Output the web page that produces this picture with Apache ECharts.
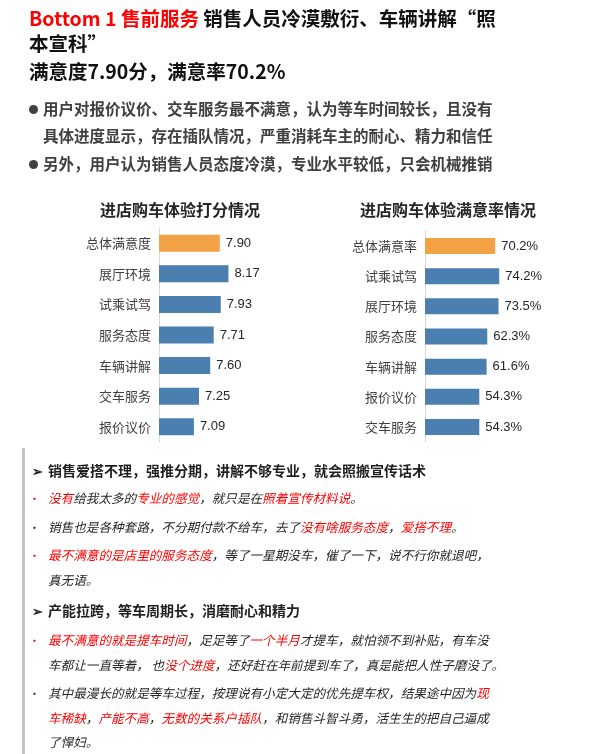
<!DOCTYPE html>
<html>
<head>
<meta charset="utf-8">
<script src="https://cdn.jsdelivr.net/npm/echarts@6/dist/echarts.min.js"></script>
<style>
	*{
		margin:0px;
		padding:0px;
	}
	body{
		background: #fff;
		font-family: "Noto Sans CJK SC", "Noto Sans", sans-serif;
	}
	#page{
		position: relative;
		width: 611px;
		height: 754px;
		overflow: hidden;
	}
	#main{
		position: absolute;
		left: 0;
		top: 0;
		width: 611px;
		height: 754px;
	}
	.ln{
		position: absolute;
		white-space: nowrap;
	}
	.head{
		left: 29px;
		font-size: 19.5px;
		font-weight: bold;
		color: #111;
		line-height: 25px;
	}
	.red{
		color: #ff0000;
	}
	.pt{
		left: 29px;
		font-size: 15.5px;
		font-weight: bold;
		color: #404040;
		line-height: 26px;
	}
	.pt b{
		display: inline-block;
		width: 9px;
		height: 9px;
		border-radius: 50%;
		background: #404040;
		margin: 0 5px 0 0;
		vertical-align: 1px;
	}
	.pt b.no{
		background: none;
	}
	.bar-left{
		position: absolute;
		left: 22px;
		top: 448px;
		width: 3px;
		height: 306px;
		background: #c4c4c4;
	}
	.sub{
		left: 32px;
		font-size: 14px;
		font-weight: bold;
		color: #1f1f1f;
		line-height: 22px;
	}
	.sub i{
		font-style: normal;
		display: inline-block;
		width: 16px;
		font-size: 13px;
	}
	.it{
		left: 48px;
		font-size: 12.6px;
		font-style: italic;
		color: #262626;
		line-height: 22px;
	}
	.dot{
		left: 29px;
		font-size: 11px;
		line-height: 22px;
	}
</style>
</head>
<body>
<div id="page">
	<div id="main"></div>

	<div class="ln head" style="top:5px;"><span class="red">Bottom 1 售前服务</span> 销售人员冷漠敷衍、车辆讲解“照<br>本宣科”</div>
	<div class="ln head" style="top:58px;">满意度7.90分，满意率70.2%</div>

	<div class="ln pt" style="top:95px;"><b></b>用户对报价议价、交车服务最不满意，认为等车时间较长，且没有</div>
	<div class="ln pt" style="top:122px;"><b class="no"></b>具体进度显示，存在插队情况，严重消耗车主的耐心、精力和信任</div>
	<div class="ln pt" style="top:150px;"><b></b>另外，用户认为销售人员态度冷漠，专业水平较低，只会机械推销</div>

	<div class="bar-left"></div>
	<div id="notes"></div>
</div>
<script type="text/javascript">
var scoreCats = ['总体满意度', '展厅环境', '试乘试驾', '服务态度', '车辆讲解', '交车服务', '报价议价'];
var scoreVals = [7.90, 8.17, 7.93, 7.71, 7.60, 7.25, 7.09];
var rateCats = ['总体满意率', '试乘试驾', '展厅环境', '服务态度', '车辆讲解', '报价议价', '交车服务'];
var rateVals = [70.2, 74.2, 73.5, 62.3, 61.6, 54.3, 54.3];

// 下方评论：[y中心, 圆点颜色, 文本]，{...} 内为红字
var headings = [
	[470, '销售爱搭不理，强推分期，讲解不够专业，就会照搬宣传话术'],
	[610, '产能拉跨，等车周期长，消磨耐心和精力']
];
var comments = [
	[498, 'red', '{没有}给我太多的{专业的感觉}，就只是在{照着宣传材料说}。'],
	[527, 'black', '销售也是各种套路，不分期付款不给车，去了{没有啥服务态度}，{爱搭不理}。'],
	[555, 'red', '{最不满意的是店里的服务态度}，等了一星期没车，催了一下，说不行你就退吧，'],
	[580, '', '真无语。'],
	[640, 'red', '{最不满意的就是提车时间}，足足等了{一个半月}才提车，就怕领不到补贴，有车没'],
	[665, '', '车都让一直等着， 也{没个进度}，还好赶在年前提到车了，真是能把人性子磨没了。'],
	[693, 'black', '其中最漫长的就是等车过程，按理说有小定大定的优先提车权，结果途中因为{现}'],
	[718, '', '{车稀缺}，{产能不高}，{无数的关系户插队}，和销售斗智斗勇，活生生的把自己逼成'],
	[742, '', '了悍妇。']
];

var html = '';
headings.forEach(function (h) {
	html += '<div class="ln sub" style="top:' + (h[0] - 11) + 'px;"><i>➢</i>' + h[1] + '</div>';
});
comments.forEach(function (c) {
	var t = c[2].replace(/\{([^}]*)\}/g, '<span class="red">$1</span>');
	if (c[1]) {
		html += '<div class="ln dot" style="top:' + (c[0] - 11) + 'px;color:' + (c[1] == 'red' ? '#ff0000' : '#262626') + ';">•</div>';
	}
	html += '<div class="ln it" style="top:' + (c[0] - 11) + 'px;">' + t + '</div>';
});
document.getElementById('notes').innerHTML = html;

var orange = '#f2a145';
var blue = '#4a7fb0';
var font = '"Noto Sans CJK SC", sans-serif';

function barColor(p) {
	return p.dataIndex === 0 ? orange : blue;
}

var myChart = echarts.init(document.getElementById('main'));
myChart.setOption({
	animation: false,
	graphic: [
		{type: 'text', x: 180, y: 210, style: {text: '进店购车体验打分情况', font: 'bold 16px ' + font, fill: '#262626', textAlign: 'center', textVerticalAlign: 'middle'}},
		{type: 'text', x: 448, y: 210, style: {text: '进店购车体验满意率情况', font: 'bold 16px ' + font, fill: '#262626', textAlign: 'center', textVerticalAlign: 'middle'}}
	],
	grid: [
		{left: 159, top: 228, width: 96, height: 214},
		{left: 425, top: 231, width: 100, height: 211}
	],
	xAxis: [
		{type: 'value', gridIndex: 0, min: 6, max: 9, show: false},
		{type: 'value', gridIndex: 1, min: 0, max: 100, show: false}
	],
	yAxis: [
		{
			type: 'category', gridIndex: 0, data: scoreCats, inverse: true,
			axisLine: {lineStyle: {color: '#d9d9d9', width: 1}},
			axisTick: {show: false},
			axisLabel: {margin: 8, fontSize: 13, color: '#404040', fontFamily: font}
		},
		{
			type: 'category', gridIndex: 1, data: rateCats, inverse: true,
			axisLine: {lineStyle: {color: '#d9d9d9', width: 1}},
			axisTick: {show: false},
			axisLabel: {margin: 8, fontSize: 13, color: '#404040', fontFamily: font}
		}
	],
	series: [
		{
			type: 'bar', xAxisIndex: 0, yAxisIndex: 0, data: scoreVals, barWidth: 17,
			itemStyle: {color: barColor},
			label: {
				show: true, position: 'right', distance: 6, fontSize: 13, color: '#262626',
				fontFamily: '"Liberation Sans", Arial, sans-serif',
				formatter: function (p) { return p.value.toFixed(2); }
			}
		},
		{
			type: 'bar', xAxisIndex: 1, yAxisIndex: 1, data: rateVals, barWidth: 16,
			itemStyle: {color: barColor},
			label: {
				show: true, position: 'right', distance: 6, fontSize: 13, color: '#262626',
				fontFamily: '"Liberation Sans", Arial, sans-serif',
				formatter: function (p) { return p.value.toFixed(1) + '%'; }
			}
		}
	]
});
</script>
</body>
</html>
